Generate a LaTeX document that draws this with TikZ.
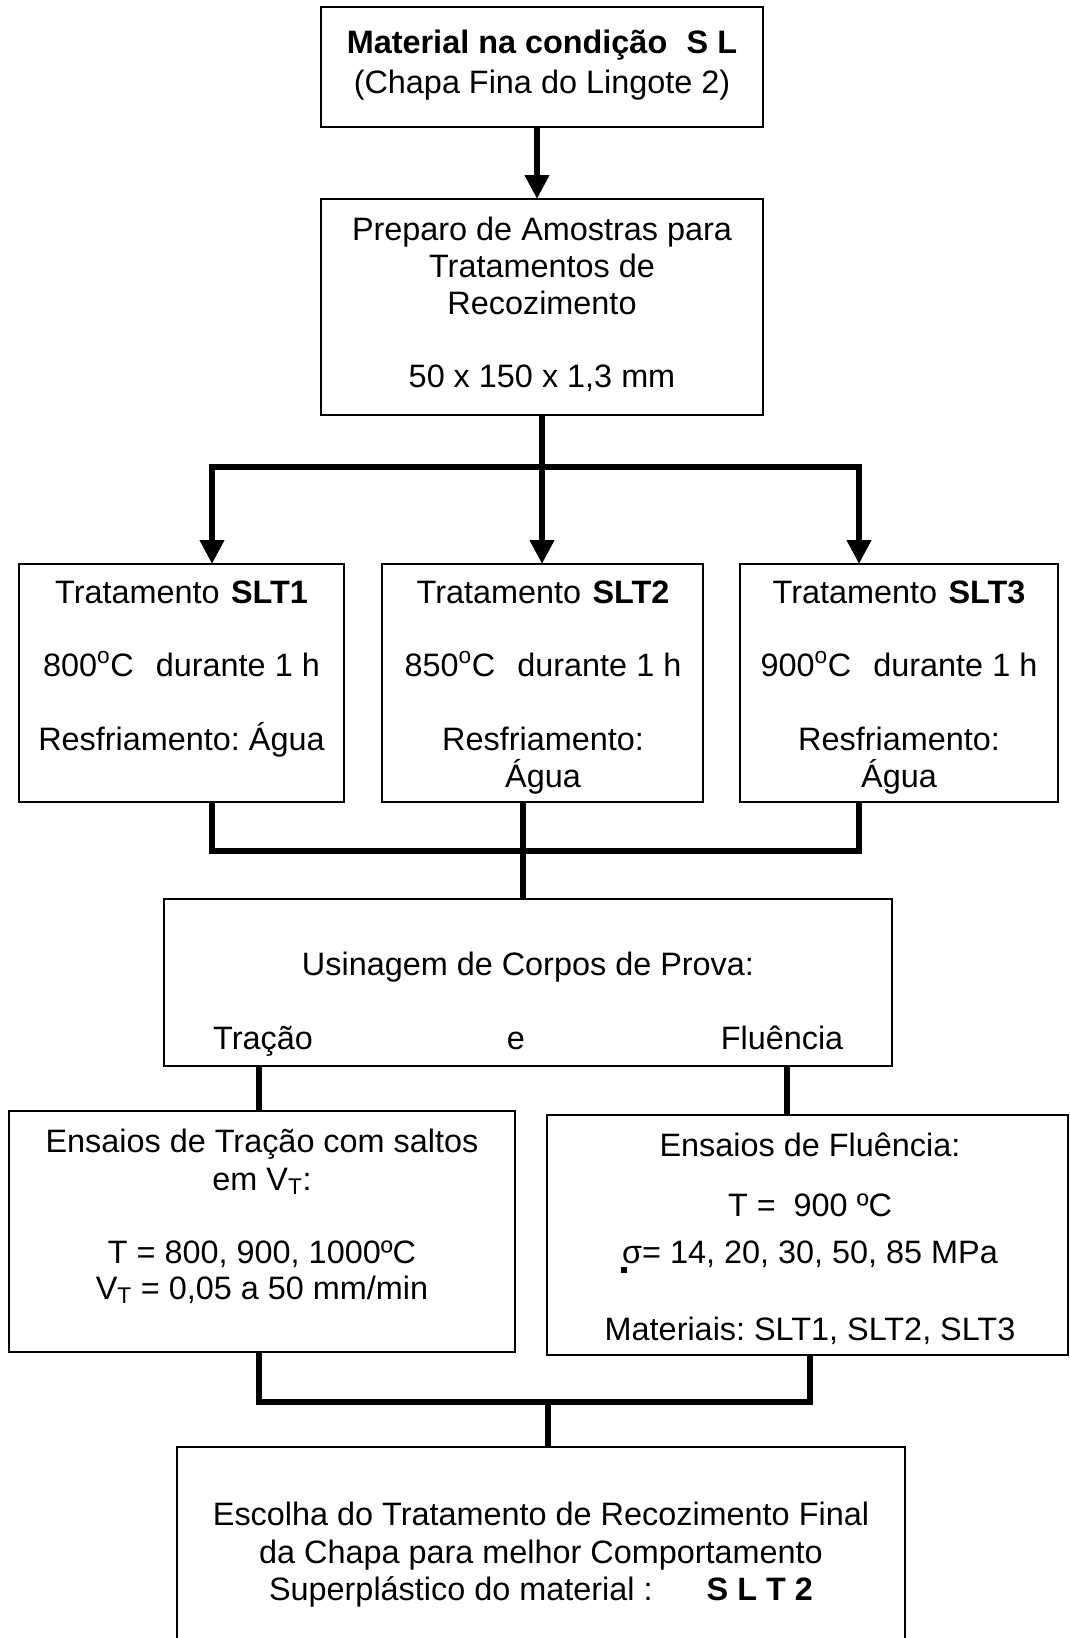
\documentclass[tikz,border=0pt]{standalone}
\usepackage{fontspec}
\setmainfont{Liberation Sans}
\usetikzlibrary{arrows.meta,fit}
\frenchspacing
\begin{document}
\begin{tikzpicture}[x=0.75pt,y=-0.75pt,
  box/.style={draw, line width=1.2pt, inner sep=0pt, outer sep=0pt},
  txt/.style={anchor=base, inner sep=0pt, font=\fontsize{24.3}{29}\selectfont},
  conn/.style={line width=5.2pt, line join=miter},
  tip/.style={-{Triangle[width=17.5pt,length=18pt]}},
  dtip/.style={{Triangle[width=17.5pt,length=18pt]}-{Triangle[width=17.5pt,length=18pt]}}]
\clip (0,0) rectangle (1070,1638);

% boxes
\node[box, fit={(321,7) (763,127)}] (n1) {};
\node[box, fit={(321,199) (763,415)}] (n2) {};
\node[box, fit={(19,564) (344,802)}] (t1) {};
\node[box, fit={(382,564) (703,802)}] (t2) {};
\node[box, fit={(740,564) (1058,802)}] (t3) {};
\node[box, fit={(164,899) (892,1066)}] (u) {};
\node[box, fit={(9,1111) (515,1352)}] (e1) {};
\node[box, fit={(547,1115) (1068,1355)}] (e2) {};
\node[box, fit={(177,1447) (905,1660)}] (f) {};

% starting material
\node[txt] (n1a) at (542,53) {\textbf{Material na condição\hspace{0.6em}S L}};
\node[txt] (n1b) at (542,93) {(Chapa Fina do Lingote 2)};

% sample preparation
\node[txt] (n2a) at (542,240) {Preparo de Amostras para};
\node[txt] (n2b) at (542,277) {Tratamentos de};
\node[txt] (n2c) at (542,314) {Recozimento};
\node[txt] (n2d) at (542,387) {50 x 150 x 1,3 mm};

% annealing treatments
\node[txt] (t1a) at (181.5,603) {Tratamento\hspace{0.35em}\textbf{SLT1}};
\node[txt] (t1b) at (181.5,676) {800\textsuperscript{o}C\hspace{0.68em}durante 1 h};
\node[txt] (t1c) at (181.5,750) {Resfriamento: Água};

\node[txt] (t2a) at (543,603) {Tratamento\hspace{0.35em}\textbf{SLT2}};
\node[txt] (t2b) at (543,676) {850\textsuperscript{o}C\hspace{0.68em}durante 1 h};
\node[txt] (t2c) at (543,750) {Resfriamento:};
\node[txt] (t2d) at (543,787) {Água};

\node[txt] (t3a) at (899,603) {Tratamento\hspace{0.35em}\textbf{SLT3}};
\node[txt] (t3b) at (899,676) {900\textsuperscript{o}C\hspace{0.68em}durante 1 h};
\node[txt] (t3c) at (899,750) {Resfriamento:};
\node[txt] (t3d) at (899,787) {Água};

% machining
\node[txt] (ua) at (528,975) {Usinagem de Corpos de Prova:};
\node[txt] (ub) at (263,1049) {Tração};
\node[txt] (uc) at (516,1049) {e};
\node[txt] (ud) at (782,1049) {Fluência};

% tensile tests
\node[txt] (e1a) at (262,1152) {Ensaios de Tração com saltos};
\node[txt] (e1b) at (262,1190) {em V\textsubscript{T}:};
\node[txt] (e1c) at (262,1263) {T = 800, 900, 1000ºC};
\node[txt] (e1d) at (262,1299) {V\textsubscript{T} = 0,05 a 50 mm/min};

% creep tests
\node[txt] (e2a) at (810,1156) {Ensaios de Fluência:};
\node[txt] (e2b) at (810,1216) {T =\ \ 900 ºC};
\node[txt] (e2c) at (810,1263) {σ= 14, 20, 30, 50, 85 MPa};
\node[txt] (e2d) at (810,1340) {Materiais: SLT1, SLT2, SLT3};
\fill (621,1267) rectangle (627,1273);

% final choice
\node[txt] (fa) at (541,1525) {Escolha do Tratamento de Recozimento Final};
\node[txt] (fb) at (541,1563) {da Chapa para melhor Comportamento};
\node[txt] (fc) at (541,1600) {Superplástico do material :\hspace{1.67em}\textbf{S L T 2}};

% connectors
\coordinate (a1) at (537,160);
\coordinate (s1) at (212,467);
\coordinate (s3) at (859,467);
\coordinate (m1) at (212,851);
\coordinate (m2) at (523,851);
\coordinate (m3) at (859,851);
\coordinate (k1) at (259,1090);
\coordinate (k2) at (787,1090);
\coordinate (q1) at (259,1402);
\coordinate (q2) at (810,1402);
\coordinate (q3) at (548,1402);

\draw[conn,tip] (a1 |- n1.south) -- (a1 |- n2.north);
\draw[conn,tip] (n2.south) -- (n2.south |- t2.north);
\draw[conn,dtip] (s1 |- t1.north) -- (s1) -- (s3) -- (s3 |- t3.north);
\draw[conn] (m1 |- t1.south) -- (m1) -- (m3) -- (m3 |- t3.south);
\draw[conn] (m2 |- t2.south) -- (m2 |- u.north);
\draw[conn] (k1 |- u.south) -- (k1 |- e1.north);
\draw[conn] (k2 |- u.south) -- (k2 |- e2.north);
\draw[conn] (q1 |- e1.south) -- (q1) -- (q2) -- (q2 |- e2.south);
\draw[conn] (q3) -- (q3 |- f.north);
\end{tikzpicture}
\end{document}
